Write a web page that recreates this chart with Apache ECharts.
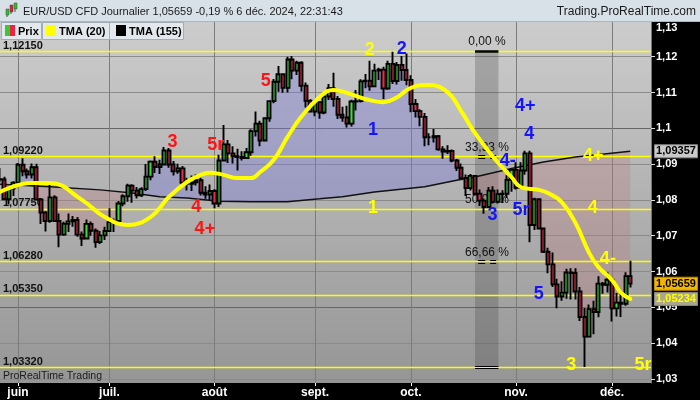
<!DOCTYPE html>
<html><head><meta charset="utf-8">
<script src="https://cdn.jsdelivr.net/npm/echarts@6/dist/echarts.min.js"></script>
<style>html,body{margin:0;padding:0;overflow:hidden;background:#b0b0b0}#c{width:700px;height:400px}</style>
</head><body><div id="c"></div>
<script>
// ---------- data ----------
const monthIdx = [4, 24, 47, 69, 90, 113, 134];
const monthNames = ['juin', 'juil.', 'août', 'sept.', 'oct.', 'nov.', 'déc.'];

const opens = [1.0858,1.0857,1.0802,1.0832,1.0848,1.0898,1.0880,1.0871,1.0891,1.0801,
1.0765,1.0741,1.0807,1.0741,1.0703,1.0733,1.0740,1.0744,1.0703,1.0692,
1.0733,1.0714,1.0682,1.0701,1.0713,1.0738,1.0741,1.0790,1.0810,1.0840,
1.0826,1.0813,1.0830,1.0865,1.0907,1.0892,1.0899,1.0938,1.0899,1.0880,
1.0888,1.0848,1.0845,1.0849,1.0855,1.0820,1.0815,1.0825,1.0790,1.0910,
1.0955,1.0930,1.0922,1.0920,1.0917,1.0933,1.0992,1.1013,1.0966,1.1028,
1.1076,1.1130,1.1151,1.1113,1.1192,1.1161,1.1183,1.1119,1.1077,1.1047,
1.1073,1.1044,1.1089,1.1112,1.1082,1.1038,1.1030,1.1013,1.1075,1.1076,
1.1131,1.1133,1.1117,1.1161,1.1164,1.1111,1.1180,1.1132,1.1177,1.1163,
1.1135,1.1068,1.1048,1.1032,1.0975,1.0975,1.0978,1.0941,1.0935,1.0937,
1.0910,1.0890,1.0861,1.0833,1.0867,1.0817,1.0798,1.0780,1.0826,1.0795,
1.0816,1.0817,1.0856,1.0884,1.0834,1.0882,1.0930,1.0730,1.0802,1.0720,
1.0655,1.0620,1.0564,1.0530,1.0541,1.0597,1.0596,1.0544,1.0473,1.0418,
1.0495,1.0487,1.0566,1.0563,1.0577,1.0497,1.0513,1.0510,1.0587];

const closes = [1.0857,1.0802,1.0832,1.0848,1.0898,1.0880,1.0871,1.0891,1.0801,1.0765,
1.0741,1.0807,1.0741,1.0703,1.0733,1.0740,1.0744,1.0703,1.0692,1.0733,
1.0714,1.0682,1.0701,1.0713,1.0738,1.0741,1.0790,1.0810,1.0840,1.0826,
1.0813,1.0830,1.0865,1.0907,1.0892,1.0899,1.0938,1.0899,1.0880,1.0888,
1.0848,1.0845,1.0849,1.0855,1.0820,1.0815,1.0825,1.0790,1.0910,1.0955,
1.0930,1.0922,1.0920,1.0917,1.0933,1.0992,1.1013,1.0966,1.1028,1.1076,
1.1130,1.1151,1.1113,1.1192,1.1161,1.1183,1.1119,1.1077,1.1047,1.1073,
1.1044,1.1089,1.1112,1.1082,1.1038,1.1030,1.1013,1.1075,1.1076,1.1131,
1.1133,1.1117,1.1161,1.1164,1.1111,1.1180,1.1132,1.1177,1.1163,1.1135,
1.1068,1.1048,1.1032,1.0975,1.0975,1.0978,1.0941,1.0935,1.0937,1.0910,
1.0890,1.0861,1.0833,1.0867,1.0817,1.0798,1.0780,1.0826,1.0795,1.0816,
1.0817,1.0856,1.0884,1.0834,1.0882,1.0930,1.0730,1.0802,1.0720,1.0655,
1.0620,1.0564,1.0530,1.0541,1.0597,1.0596,1.0544,1.0473,1.0418,1.0495,
1.0487,1.0566,1.0563,1.0577,1.0497,1.0513,1.0510,1.0587,1.0566];

const lows = [1.0849,1.0799,1.0788,1.0811,1.0835,1.0866,1.0860,1.0860,1.0798,1.0733,
1.0712,1.0736,1.0738,1.0668,1.0700,1.0710,1.0725,1.0697,1.0671,1.0690,
1.0700,1.0666,1.0677,1.0688,1.0710,1.0710,1.0730,1.0782,1.0795,1.0792,
1.0804,1.0808,1.0825,1.0855,1.0875,1.0872,1.0896,1.0890,1.0868,1.0873,
1.0842,1.0826,1.0825,1.0840,1.0812,1.0803,1.0800,1.0777,1.0780,1.0907,
1.0903,1.0902,1.0882,1.0910,1.0914,1.0923,1.0977,1.0950,1.0964,1.1018,
1.1070,1.1102,1.1099,1.1100,1.1137,1.1149,1.1103,1.1058,1.1044,1.1034,
1.1027,1.1039,1.1079,1.1060,1.1026,1.1018,1.1002,1.1005,1.1050,1.1072,
1.1112,1.1105,1.1116,1.1135,1.1082,1.1108,1.1124,1.1122,1.1133,1.1120,
1.1045,1.1030,1.1006,1.0950,1.0953,1.0960,1.0937,1.0915,1.0928,1.0905,
1.0881,1.0860,1.0811,1.0826,1.0812,1.0783,1.0761,1.0778,1.0790,1.0790,
1.0791,1.0805,1.0823,1.0829,1.0833,1.0870,1.0682,1.0716,1.0717,1.0652,
1.0595,1.0557,1.0497,1.0518,1.0524,1.0522,1.0522,1.0462,1.0333,1.0418,
1.0425,1.0472,1.0538,1.0541,1.0460,1.0474,1.0473,1.0504,1.0555];

const highs = [1.0889,1.0865,1.0838,1.0852,1.0903,1.0916,1.0888,1.0902,1.0901,1.0805,
1.0768,1.0852,1.0813,1.0762,1.0739,1.0762,1.0755,1.0752,1.0712,1.0745,
1.0740,1.0720,1.0713,1.0725,1.0777,1.0748,1.0797,1.0816,1.0845,1.0844,
1.0836,1.0835,1.0900,1.0910,1.0922,1.0912,1.0948,1.0945,1.0909,1.0901,
1.0895,1.0862,1.0868,1.0871,1.0862,1.0838,1.0843,1.0830,1.0926,1.1009,
1.0967,1.0950,1.0943,1.0936,1.0945,1.0997,1.1047,1.1021,1.1030,1.1077,
1.1138,1.1174,1.1154,1.1200,1.1202,1.1189,1.1187,1.1128,1.1081,1.1080,
1.1075,1.1093,1.1124,1.1155,1.1090,1.1060,1.1063,1.1080,1.1107,1.1137,
1.1152,1.1189,1.1180,1.1169,1.1172,1.1189,1.1214,1.1185,1.1202,1.1209,
1.1148,1.1082,1.1053,1.1043,1.0986,1.0998,1.0981,1.0950,1.0953,1.0941,
1.0914,1.0902,1.0871,1.0872,1.0868,1.0829,1.0804,1.0836,1.0838,1.0829,
1.0827,1.0869,1.0885,1.0905,1.0905,1.0937,1.0937,1.0806,1.0803,1.0723,
1.0666,1.0653,1.0580,1.0573,1.0608,1.0609,1.0609,1.0557,1.0498,1.0508,
1.0518,1.0587,1.0571,1.0598,1.0578,1.0540,1.0545,1.0598,1.0630];

// TMA(20) read at points [day index, value]
const tma20 = [[0,1.0822],[7,1.0847],[11,1.0847],[18,1.0800],[23,1.0752],[28,1.0730],[33,1.0752],
[37,1.0808],[41,1.0850],[44,1.0870],[46,1.0876],[49,1.0870],[52,1.0861],[55,1.0861],[57,1.0878],
[60,1.0912],[63,1.0976],[66,1.1032],[70,1.1087],[73,1.1107],[76,1.1099],[80,1.1082],[84,1.1073],
[87,1.1087],[90,1.1113],[94,1.1121],[98,1.1101],[101,1.1048],[104,1.0987],[108,1.0920],[112,1.0864],
[114,1.0836],[118,1.0828],[120,1.0819],[123,1.0794],[126,1.0736],[129,1.0652],[131,1.0613],
[134,1.0576],[136,1.0540],[138,1.05234]];

// TMA(155) read at points
const tma155 = [[0,1.0844],[11,1.0837],[22,1.0828],[29,1.0819],[35,1.0809],[41,1.0805],[48,1.0796],
[55,1.0795],[63,1.0795],[70,1.0803],[75,1.0809],[82,1.0822],[93,1.0837],[100,1.0855],[104,1.0864],
[112,1.0888],[119,1.0906],[126,1.0920],[138,1.09357]];

// horizontal levels
const hLevels = [1.1215, 1.0922, 1.0775, 1.0628, 1.0535, 1.0332];
const hTexts = ['1,12150', '1,09220', '1,07750', '1,06280', '1,05350', '1,03320'];

// Fibonacci box
const fibLevels = [1.1215, 1.09207, 1.07735, 1.06263, 1.0332];
const fibTexts = ['0,00 %', '33,33 %', '50,00 %', '66,66 %'];
const fibX = [104.02, 109.15];
const fibLabelX = 106.65;

// wave labels
const waveTexts = ['3','5r','4','4+','5','2','2','1','1','4+','4','4-','3','5r','4+','4','4-','5','3','5r'];
const waveX = [37.8,47.3,43.0,44.9,58.2,81.0,88.0,81.7,81.7,115.0,115.9,111.2,107.85,114.1,129.9,129.8,133.1,118.0,125.1,140.8];
const waveY = [1.0962,1.0952,1.0780,1.0719,1.1132,1.1219,1.1222,1.0995,1.0777,1.1061,1.0984,1.0909,1.0759,1.0772,1.0922,1.0777,1.0636,1.0536,1.0340,1.0340];
const waveCol = ['r','r','r','r','r','y','b','b','y','b','b','b','b','b','y','y','y','b','y','y'];

const yTicks = [1.03,1.04,1.05,1.06,1.07,1.08,1.09,1.10,1.11,1.12,1.13];
const lastPrice = 1.05659, lastTma20 = 1.05234, lastTma155 = 1.09357;

// ---------- chart ----------
const FONT = '"Liberation Sans", Arial, sans-serif';
const X_MIN = 0.0603, X_MAX = 142.54, Y_MIN = 1.028855, Y_MAX = 1.13;
const COLS = {r:'#ff1414', b:'#1414ff', y:'#ffff00'};
const BLUE = 'rgba(120,120,215,0.38)', PINK = 'rgba(188,122,122,0.30)';

function renderFill(params, api) {
  const tp = tma155.map(p => api.coord([p[0], p[1]]));
  const tY = x => {
    if (x <= tp[0][0]) return tp[0][1];
    for (let k = 1; k < tp.length; k++) {
      if (x <= tp[k][0]) { const a = tp[k-1], b = tp[k]; return a[1] + (b[1]-a[1])*(x-a[0])/(b[0]-a[0]); }
    }
    return tp[tp.length-1][1];
  };
  const runs = []; let up = [], lo = [], sg = 0, px = 0, pd = 0, pyc = 0;
  for (let i = 0; i < closes.length; i++) {
    const p = api.coord([i, closes[i]]);
    const x = p[0], yc = p[1], yt = tY(x), d = yt - yc, s = d >= 0 ? 1 : -1;
    if (i > 0 && s !== sg) {
      const t = pd / (pd - d), xm = px + t*(x-px), ym = pyc + t*(yc-pyc);
      up.push([xm, ym]); lo.push([xm, ym]);
      runs.push({s: sg, pts: up.concat(lo.slice().reverse())});
      up = [[xm, ym]]; lo = [[xm, ym]];
    }
    sg = s; up.push([x, yc]); lo.push([x, yt]); px = x; pd = d; pyc = yc;
  }
  runs.push({s: sg, pts: up.concat(lo.slice().reverse())});
  return {type: 'group', children: runs.map(r => ({type: 'polygon', shape: {points: r.pts}, style: {fill: r.s > 0 ? BLUE : PINK}}))};
}

const markLineData = hLevels.map((v, i) => ({
  yAxis: v,
  lineStyle: {color: '#ffff00', width: 1.3, type: 'solid'},
  label: {show: true, position: 'insideStartTop', formatter: hTexts[i], color: '#111', fontWeight: 'bold', fontSize: 11, fontFamily: FONT, distance: [3, 0]}
}));
const seg = (x0, x1, v, ls) => [{coord: [x0, v], lineStyle: ls, label: {show: false}}, {coord: [x1, v]}];
markLineData.push(seg(fibX[0], fibX[1], fibLevels[0], {color: '#000', width: 2.5, type: 'solid'}));
[1, 3].forEach(k => {
  markLineData.push(seg(fibX[0]+0.7, fibX[1]-0.5, fibLevels[k]+0.0004, {color: '#000', width: 1, type: [7, 5]}));
  markLineData.push(seg(fibX[0]+0.7, fibX[1]-0.5, fibLevels[k]-0.0004, {color: '#000', width: 1, type: [7, 5]}));
});
markLineData.push(seg(fibX[0], fibX[1], fibLevels[4]+0.00035, {color: '#000', width: 1, type: 'solid'}));
markLineData.push(seg(fibX[0], fibX[1], fibLevels[4]-0.00035, {color: '#000', width: 1, type: 'solid'}));

const option = {
  animation: false,
  grid: {left: 0, top: 20.9, width: 651, height: 362.1, show: false, containLabel: false, outerBoundsMode: 'none'},
  xAxis: {
    type: 'value', min: X_MIN, max: X_MAX, z: 0,
    axisLine: {show: false},
    axisTick: {show: true, customValues: monthIdx, length: 3, lineStyle: {color: '#fff'}},
    axisLabel: {customValues: monthIdx, formatter: v => monthNames[monthIdx.indexOf(Math.round(v))] || '',
      color: '#fff', fontWeight: 'bold', fontSize: 12, fontFamily: FONT, margin: 4},
    splitLine: {show: true, lineStyle: {color: '#7c7c7c', width: 1}}
  },
  yAxis: [
    {type: 'value', min: Y_MIN, max: Y_MAX, position: 'right', z: 0,
      axisLine: {show: false}, axisTick: {show: false, customValues: yTicks},
      axisLabel: {show: false, customValues: yTicks},
      splitLine: {show: true, lineStyle: {color: ['#8b8b8b','#8b8b8b','#666666','#8b8b8b','#8b8b8b'], width: 1}}},
    {type: 'value', min: Y_MIN, max: Y_MAX, position: 'right', z: 6,
      axisLine: {show: true, lineStyle: {color: '#777'}},
      axisTick: {show: true, customValues: yTicks, length: 4, lineStyle: {color: '#ddd'}},
      axisLabel: {customValues: yTicks, color: '#fff', fontWeight: 'bold', fontSize: 11, fontFamily: FONT, margin: 5,
        formatter: v => { const s = String(parseFloat(v.toFixed(2))).replace('.', ','); return Math.abs(v - 1.13) < 1e-6 ? '{t|' + s + '}' : s; },
        rich: {t: {padding: [15, 0, 0, 0], color: '#fff', fontWeight: 'bold', fontSize: 11, fontFamily: FONT}}},
      splitLine: {show: false}}
  ],
  series: [
    {type: 'custom', name: 'fill', z: 1, clip: true, silent: true, data: [[0, closes[0]]], renderItem: renderFill},
    {type: 'line', name: 'TMA (155)', z: 2, data: tma155, symbol: 'none', smooth: false, silent: true,
      lineStyle: {color: '#111', width: 1.5},
      markArea: {silent: true, z: 1, itemStyle: {color: 'rgba(60,60,60,0.26)'},
        data: [[{coord: [fibX[0], fibLevels[0]]}, {coord: [fibX[1], fibLevels[4]]}]]},
      markLine: {silent: true, z: 1.5, symbol: ['none', 'none'], precision: 5, data: markLineData}},
    {type: 'scatter', name: 'fib', z: 2.5, silent: true, symbolSize: 1, itemStyle: {color: 'rgba(0,0,0,0)', opacity: 1},
      data: fibTexts.map((t, i) => ({value: [fibLabelX, fibLevels[i]], label: {formatter: t}})),
      label: {show: true, position: 'top', distance: 3, color: '#111', fontSize: 12, fontFamily: FONT}},
    {type: 'candlestick', name: 'Prix', z: 3, barWidth: 3.6, silent: true,
      data: closes.map((c, i) => [i, opens[i], c, lows[i], highs[i]]),
      itemStyle: {color: '#35e335', color0: '#f0284e', borderColor: '#000', borderColor0: '#000', borderColorDoji: '#000', borderWidth: 1.9}},
    {type: 'line', name: 'TMA (20)', z: 4, data: tma20, symbol: 'none', smooth: 0.45, silent: true,
      lineStyle: {color: '#ffff00', width: 4, cap: 'round', join: 'round'}},
    {type: 'scatter', name: 'waves', z: 4.5, silent: true, symbolSize: 1, itemStyle: {color: 'rgba(0,0,0,0)', opacity: 1},
      data: waveTexts.map((t, i) => ({value: [waveX[i], waveY[i]], label: {formatter: t, color: COLS[waveCol[i]]}})),
      label: {show: true, position: 'inside', fontSize: 18, fontWeight: 'bold', fontFamily: FONT, opacity: 1, textBorderWidth: 0}}
  ]
};

const chart = echarts.init(document.getElementById('c'), null, {renderer: 'canvas', width: 700, height: 400});
chart.setOption(option);

function tag(v, fill, textColor, stroke) {
  const y = chart.convertToPixel({yAxisIndex: 0}, v);
  const s = v.toFixed(5).replace('.', ',');
  return [
    {type: 'rect', z: 7, silent: true, shape: {x: 654.5, y: y - 6.5, width: 43, height: 13}, style: {fill: fill, stroke: stroke, lineWidth: 1}},
    {type: 'text', z: 8, silent: true, x: 676, y: y, style: {text: s, fill: textColor, font: 'bold 11px ' + FONT, align: 'center', verticalAlign: 'middle'}}
  ];
}

const g = [];
g.push({type: 'rect', z: -2, silent: true, shape: {x: 0, y: 0, width: 700, height: 400},
  style: {fill: {type: 'linear', x: 0, y: 0, x2: 0, y2: 1, colorStops: [{offset: 0, color: '#d0d0d0'}, {offset: 1, color: '#939393'}]}}});
g.push({type: 'rect', z: -1, silent: true, shape: {x: 0, y: 383, width: 700, height: 17}, style: {fill: '#000'}});
g.push({type: 'rect', z: 5, silent: true, shape: {x: 651, y: 21, width: 49, height: 379}, style: {fill: '#000'}});
// header
g.push({type: 'rect', z: 7, silent: true, shape: {x: 0, y: 0, width: 700, height: 22}, style: {fill: '#d9e1e8'}});
g.push({type: 'line', z: 7, silent: true, shape: {x1: 0, y1: 21.5, x2: 700, y2: 21.5}, style: {stroke: '#aab6c0', lineWidth: 1}});
// icon
[[6, 9, 15, 11, 16, '#2cc02c'], [10, 5, 12, 7, 13, '#e02040'], [14, 3, 9, 5, 11, '#2cc02c']].forEach(c => {
  g.push({type: 'line', z: 8, silent: true, shape: {x1: c[0]+1, y1: c[3]-2, x2: c[0]+1, y2: c[4]+1}, style: {stroke: '#555', lineWidth: 1}});
  g.push({type: 'rect', z: 8, silent: true, shape: {x: c[0], y: c[1], width: 3, height: c[2]-c[1]}, style: {fill: c[5], stroke: '#444', lineWidth: 0.5}});
});
g.push({type: 'text', z: 8, silent: true, x: 23, y: 12, style: {text: 'EUR/USD CFD Journalier 1,05659 -0,19 % 6 déc. 2024, 22:31:43', fill: '#1a1a1a', font: '11px ' + FONT, verticalAlign: 'middle'}});
g.push({type: 'text', z: 8, silent: true, x: 696, y: 12, style: {text: 'Trading.ProRealTime.com', fill: '#1a1a1a', font: '12px ' + FONT, align: 'right', verticalAlign: 'middle'}});
// legend boxes
[[1.5, 40, 'Prix', 18], [42.5, 67, 'TMA (20)', 59], [109.5, 74, 'TMA (155)', 129]].forEach(b => {
  g.push({type: 'rect', z: 7, silent: true, shape: {x: b[0], y: 22.5, width: b[1], height: 17}, style: {fill: '#e3e8ec', stroke: '#a4adb5', lineWidth: 1}});
  g.push({type: 'text', z: 8, silent: true, x: b[3], y: 31.5, style: {text: b[2], fill: '#000', font: 'bold 11px ' + FONT, verticalAlign: 'middle'}});
});
g.push({type: 'rect', z: 8, silent: true, shape: {x: 5, y: 25, width: 5, height: 11}, style: {fill: '#33cc33'}});
g.push({type: 'rect', z: 8, silent: true, shape: {x: 10, y: 25, width: 5, height: 11}, style: {fill: '#ee2244'}});
g.push({type: 'rect', z: 8, silent: true, shape: {x: 46, y: 25, width: 10, height: 11}, style: {fill: '#ffff00'}});
g.push({type: 'rect', z: 8, silent: true, shape: {x: 116, y: 25, width: 10, height: 11}, style: {fill: '#000'}});
g.push({type: 'text', z: 5, silent: true, x: 3, y: 376, style: {text: 'ProRealTime Trading', fill: '#1a1a1a', font: '10.5px ' + FONT, verticalAlign: 'middle'}});
g.push(...tag(lastTma155, '#c9c9c9', '#000', '#8a8a8a'));
g.push(...tag(lastPrice, '#f2b800', '#000', '#c08a00'));
g.push(...tag(lastTma20, '#aaa78c', '#ffff00', '#888'));
chart.setOption({graphic: g});
</script>
</body></html>
